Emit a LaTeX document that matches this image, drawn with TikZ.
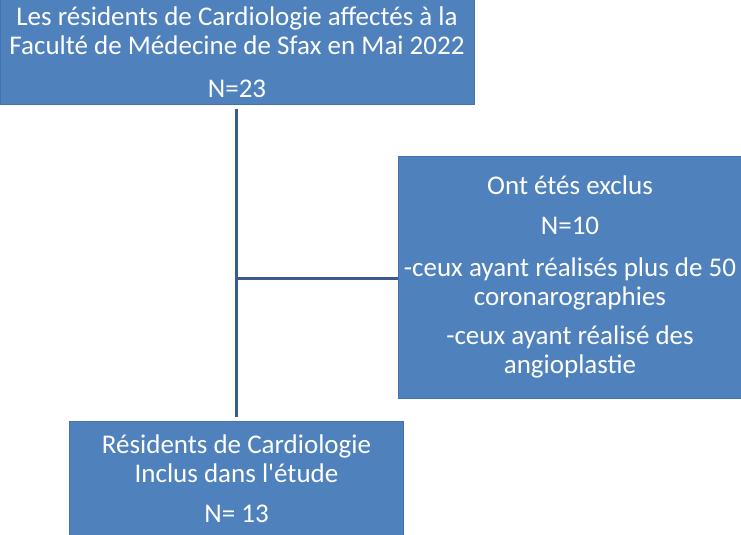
\documentclass[tikz,border=0pt]{standalone}
\usepackage{fontspec}
\setmainfont{Carlito}
\usepackage{xcolor}
\definecolor{boxfill}{HTML}{4F81BD}
\definecolor{boxedge}{HTML}{4472B0}
\definecolor{linkblue}{HTML}{3B5A90}
\usetikzlibrary{positioning, calc}

\begin{document}
\begin{tikzpicture}[
    x=1pt, y=-1pt,
    every node/.style={font=\fontsize{27}{29}\selectfont},
    flowbox/.style={draw=boxedge, line width=1pt, fill=boxfill, text=white, rectangle, align=center, inner sep=0pt},
    link/.style={draw=linkblue, line width=3pt}
]
    \useasboundingbox (0,0) rectangle (741,535);
    \begin{scope}
    \clip (0,0) rectangle (741,535);

    % Boxes
    \node[flowbox, minimum width=474pt, minimum height=104pt] (total) at (237,52)
        {Les résidents de Cardiologie affectés à la\\Faculté de Médecine de Sfax en Mai 2022\\[14pt]N=23};
    \node[flowbox, minimum width=344pt, minimum height=242pt] (excl) at (570,277)
        {Ont étés exclus\\[11pt]N=10\\[13pt]-ceux ayant réalisés plus de 50\\coronarographies\\[10pt]-ceux ayant réalisé des\\angioplastie};
    \node[flowbox, minimum width=334pt, minimum height=116pt] (incl) at (236.5,479)
        {Résidents de Cardiologie\\Inclus dans l\textquotesingle étude\\[11pt]N= 13};

    % Connectors
    \coordinate (split) at (236,278);
    \draw[link] ($(total.south)+(-1,4)$) -- ($(incl.north)+(-0.5,-4)$);
    \draw[link] (split) -- (split -| excl.west);
    \end{scope}
\end{tikzpicture}
\end{document}
